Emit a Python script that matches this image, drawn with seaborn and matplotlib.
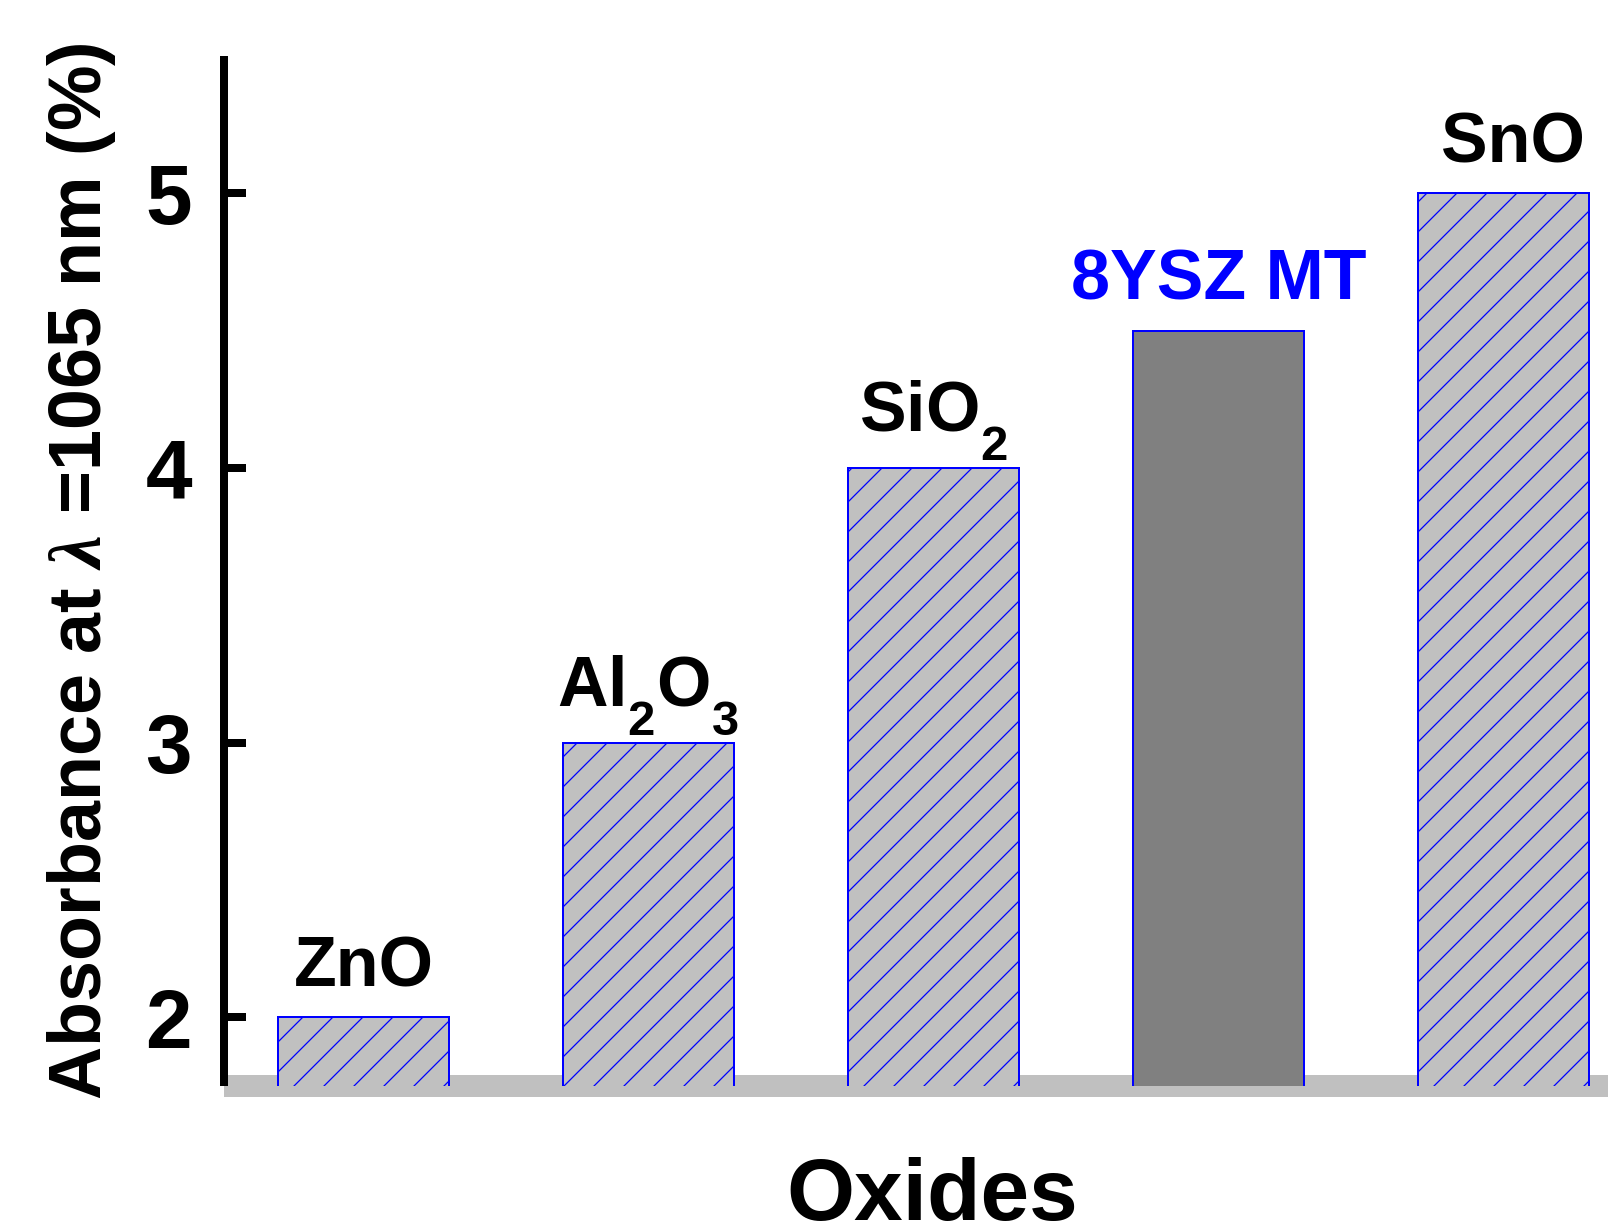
import matplotlib
matplotlib.use("Agg")
import matplotlib.pyplot as plt
import matplotlib._mathtext as mt
import seaborn as sns

# oxide absorbance values
oxides = ["ZnO", r"$\mathregular{Al_2O_3}$", r"$\mathregular{SiO_2}$", "8YSZ MT", "SnO"]
absorbance = [2.0, 3.0, 4.0, 4.5, 5.0]
bar_colors = ["#c0c0c0", "#c0c0c0", "#c0c0c0", "#808080", "#c0c0c0"]
hatches = ["//", "//", "//", "", "//"]
label_colors = ["black", "black", "black", "blue", "black"]
yticks = [2, 3, 4, 5]

sns.set_style("white")
plt.rcParams["font.family"] = ["Liberation Sans", "DejaVu Sans"]
plt.rcParams["font.weight"] = "bold"
plt.rcParams["text.color"] = "black"
plt.rcParams["axes.labelcolor"] = "black"
plt.rcParams["ytick.color"] = "black"
plt.rcParams["mathtext.fontset"] = "custom"
plt.rcParams["mathtext.rm"] = "Liberation Sans:bold"
plt.rcParams["mathtext.bf"] = "Liberation Sans:bold"
plt.rcParams["mathtext.it"] = "Liberation Serif:italic"
plt.rcParams["hatch.color"] = "blue"
plt.rcParams["hatch.linewidth"] = 0.5
# subscripts sit lower in the original
mt.FontConstantsBase.sub1 = 0.8

fig = plt.figure(figsize=(1608 / 180, 1224 / 180), dpi=180)
ax = fig.add_axes([224 / 1608, 1 - 1086 / 1224, 1384 / 1608, 1030 / 1224])

sns.barplot(x=list(range(len(oxides))), y=absorbance, hue=list(range(len(oxides))),
            palette=bar_colors, legend=False, width=0.6, edgecolor="blue",
            linewidth=0.8, ax=ax)
for patch, h in zip(ax.patches, hatches):
    patch.set_hatch(h)
    patch.set_edgecolor("blue")

# labels above each bar
label_dx = [0, 0, 0, 0, 4]
for i, (name, val) in enumerate(zip(oxides, absorbance)):
    dy = 14.8 if "_" in name else 12.4
    ax.annotate(name, (i, val), xytext=(label_dx[i], dy), textcoords="offset points",
                ha="center", va="baseline", fontsize=28, fontweight="bold",
                color=label_colors[i], annotation_clip=False)

ax.set_xlim(-0.4895, 4.367)
ax.set_ylim(1.75, 5.5)
ax.set_yticks(yticks)
ax.set_yticklabels([str(t) for t in yticks], fontsize=33.5, fontweight="bold")
ax.tick_params(axis="y", direction="in", length=8.8, width=3.2, pad=12.8, left=True)
ax.tick_params(axis="x", length=0, labelbottom=False)

for s in ["top", "right"]:
    ax.spines[s].set_visible(False)
ax.spines["left"].set_linewidth(3.2)
ax.spines["left"].set_color("black")
ax.spines["left"].set_capstyle("butt")
ax.spines["bottom"].set_linewidth(8.8)
ax.spines["bottom"].set_color("#c0c0c0")
ax.spines["bottom"].set_capstyle("butt")
ax.spines["bottom"].set_zorder(0.5)

ax.set_ylabel(r"Absorbance at $\lambda$ =1065 nm (%)", fontsize=29.5, fontweight="bold")
ax.yaxis.set_label_coords(-0.0766, 0.5)
ax.set_xlabel("Oxides", fontsize=35, fontweight="bold")
ax.xaxis.set_label_coords(0.512, -0.069)

fig.savefig("out.png", dpi=180)
